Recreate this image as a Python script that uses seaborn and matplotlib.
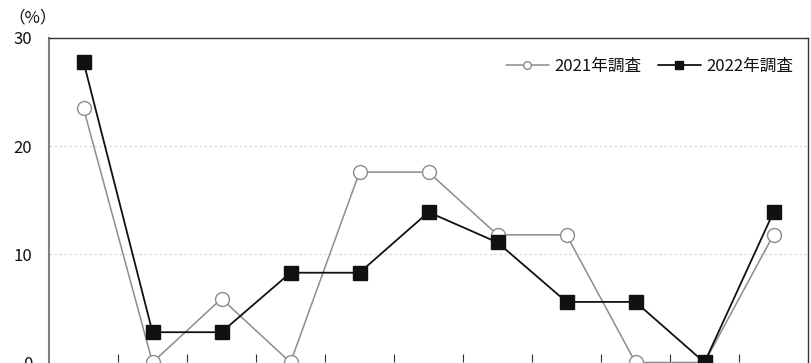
import matplotlib
matplotlib.use("Agg")
import matplotlib.pyplot as plt
import seaborn as sns
import pandas as pd

sns.set_theme(style="white")
plt.rcParams["font.family"] = ["Noto Sans CJK JP", "DejaVu Sans"]

categories = [f"c{i}" for i in range(1, 12)]
values_2021 = [23.5, 0.0, 5.9, 0.0, 17.6, 17.6, 11.8, 11.8, 0.0, 0.0, 11.8]
values_2022 = [27.8, 2.8, 2.8, 8.3, 8.3, 13.9, 11.1, 5.6, 5.6, 0.0, 13.9]
series_labels = ["2021年調査", "2022年調査"]
y_ticks = [0, 10, 20, 30]

df = pd.DataFrame({
    "category": categories * 2,
    "value": values_2021 + values_2022,
    "series": [series_labels[0]] * len(categories) + [series_labels[1]] * len(categories),
})
df["pos"] = list(range(len(categories))) * 2

fig = plt.figure(figsize=(8.11, 3.63), dpi=100)
ax = fig.add_axes([49 / 811, 0.0014, (808 - 49) / 811, (362.5 - 38) / 363])

styles = {
    series_labels[0]: dict(color="#8c8c8c", marker="o", mfc="white", mec="#8c8c8c",
                           ms=10, mew=1.0, lw=1.1),
    series_labels[1]: dict(color="#111111", marker="s", mfc="#111111", mec="#111111",
                           ms=10, mew=1.0, lw=1.3),
}

for name in series_labels:
    sub = df[df["series"] == name]
    st = styles[name]
    sns.lineplot(data=sub, x="pos", y="value", ax=ax, color=st["color"], lw=st["lw"],
                 marker=st["marker"], markersize=st["ms"], markerfacecolor=st["mfc"],
                 markeredgecolor=st["mec"], markeredgewidth=st["mew"], label=name,
                 clip_on=False, zorder=3)

ax.set_xlim(-0.5, len(categories) - 0.5)
ax.set_ylim(0, 30)
ax.set_yticks(y_ticks)
ax.set_yticklabels([str(t) for t in y_ticks], fontsize=12, color="#111111")
ax.set_xticks([i + 0.5 for i in range(len(categories) - 1)])
ax.set_xticklabels([])
ax.tick_params(axis="x", direction="in", length=6, width=0.8, color="#333333", bottom=True)
ax.tick_params(axis="y", length=0, pad=12)
ax.set_xlabel("")
ax.set_ylabel("")

for y in [10, 20]:
    ax.axhline(y, color="#d9d9c4", lw=0.9, ls=(0, (2, 2)), zorder=1)

ax.spines["left"].set_color("#7f7f7f")
ax.spines["left"].set_linewidth(1.5)
for s in ["top", "right"]:
    ax.spines[s].set_color("#333333")
    ax.spines[s].set_linewidth(1.0)
ax.spines["bottom"].set_visible(False)

leg = ax.legend(loc="upper right", frameon=False, fontsize=12, ncol=2,
                handlelength=2.6, handletextpad=0.3, columnspacing=1.0,
                bbox_to_anchor=(1.0, 0.985), markerscale=0.55)
for t in leg.get_texts():
    t.set_color("#111111")

fig.text(8 / 811, 1 - 18 / 363, "（%）", fontsize=12, va="center", ha="left",
         color="#111111")

fig.savefig("out.png", dpi=100)
